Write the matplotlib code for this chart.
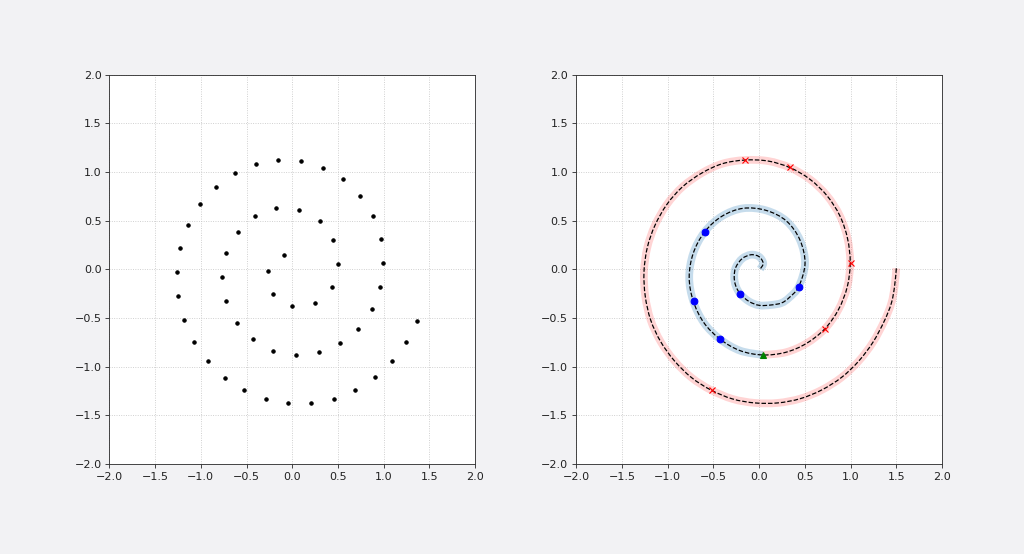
import matplotlib
matplotlib.use("Agg")
import matplotlib.pyplot as plt
import numpy as np
from matplotlib.path import Path
from matplotlib.patches import PathPatch

spiral_x = [1.367, 1.244, 1.087, 0.902, 0.684, 0.451, 0.204, -0.047, -0.291, -0.527,
            -0.738, -0.924, -1.076, -1.185, -1.244, -1.258, -1.222, -1.138, -1.007, -0.836,
            -0.625, -0.400, -0.153, 0.098, 0.338, 0.556, 0.742, 0.884, 0.967, 0.996,
            0.964, 0.869, 0.720, 0.520, 0.291, 0.040, -0.207, -0.425, -0.604, -0.720,
            -0.764, -0.720, -0.596, -0.407, -0.175, 0.076, 0.298, 0.447, 0.502, 0.429,
            0.244, 0.000, -0.211, -0.262, -0.087]
spiral_y = [-0.534, -0.750, -0.945, -1.110, -1.240, -1.329, -1.373, -1.373, -1.332, -1.240,
            -1.113, -0.942, -0.743, -0.521, -0.277, -0.027, 0.223, 0.452, 0.668, 0.849,
            0.990, 1.086, 1.123, 1.113, 1.045, 0.925, 0.757, 0.548, 0.315, 0.068,
            -0.178, -0.411, -0.610, -0.760, -0.853, -0.877, -0.836, -0.719, -0.548, -0.325,
            -0.082, 0.164, 0.384, 0.545, 0.627, 0.606, 0.497, 0.301, 0.058, -0.178,
            -0.346, -0.377, -0.250, -0.014, 0.144]

# Right panel: spiral path from outer end to inner end
curve_x = [1.500, 1.480, 1.445,
           1.367, 1.244, 1.087, 0.902, 0.684, 0.451, 0.204, -0.047, -0.291, -0.527,
           -0.738, -0.924, -1.076, -1.185, -1.244, -1.258, -1.222, -1.138, -1.007, -0.836,
           -0.625, -0.400, -0.153, 0.098, 0.338, 0.556, 0.742, 0.884, 0.967, 0.996,
           0.964, 0.869, 0.720, 0.520, 0.291, 0.040, -0.207, -0.425, -0.604, -0.720,
           -0.764, -0.720, -0.596, -0.407, -0.175, 0.076, 0.298, 0.447, 0.502, 0.433,
           0.330, 0.244, 0.125, 0.000, -0.110, -0.205, -0.255, -0.272, -0.255, -0.185,
           -0.088, 0.000, 0.045, 0.012]
curve_y = [0.010, -0.180, -0.350,
           -0.534, -0.750, -0.945, -1.110, -1.240, -1.329, -1.373, -1.373, -1.332, -1.240,
           -1.113, -0.942, -0.743, -0.521, -0.277, -0.027, 0.223, 0.452, 0.668, 0.849,
           0.990, 1.086, 1.123, 1.113, 1.045, 0.925, 0.757, 0.548, 0.315, 0.068,
           -0.178, -0.411, -0.610, -0.760, -0.853, -0.880, -0.836, -0.719, -0.548, -0.325,
           -0.082, 0.164, 0.384, 0.545, 0.627, 0.606, 0.497, 0.301, 0.058, -0.178,
           -0.290, -0.346, -0.367, -0.370, -0.330, -0.254, -0.170, -0.076, 0.020, 0.110,
           0.150, 0.130, 0.062, 0.003]
split_index = 38  # where outer (red) part meets inner (blue) part

red_x = [-0.149, 0.342, 1.000, 0.724, -0.520]
red_y = [1.127, 1.048, 0.068, -0.610, -1.240]
blue_x = [-0.589, -0.716, -0.422, -0.204, 0.436]
blue_y = [0.384, -0.325, -0.719, -0.252, -0.178]
tri_x = [0.044]
tri_y = [-0.880]

ticks = [-2.0, -1.5, -1.0, -0.5, 0.0, 0.5, 1.0, 1.5, 2.0]


def smooth_path(xs, ys):
    """Smooth Bezier path passing through the given points (Catmull-Rom style)."""
    p = np.column_stack([xs, ys]).astype(float)
    ext = np.vstack([p[0], p, p[-1]])
    verts = [p[0]]
    codes = [Path.MOVETO]
    for i in range(len(p) - 1):
        p0, p1, p2, p3 = ext[i], ext[i + 1], ext[i + 2], ext[i + 3]
        c1 = p1 + (p2 - p0) / 6.0
        c2 = p2 - (p3 - p1) / 6.0
        verts += [c1, c2, p2]
        codes += [Path.CURVE4] * 3
    return Path(np.array(verts), codes)


fig = plt.figure(figsize=(12.8, 6.925), dpi=80, facecolor="#f2f2f4")
ax1 = fig.add_axes([0.1067, 0.1626, 0.3574, 0.7025])
ax2 = fig.add_axes([0.5626, 0.1626, 0.3574, 0.7025])

ax1.plot(spiral_x, spiral_y, "k.", zorder=3)

outer = smooth_path(curve_x[:split_index + 1], curve_y[:split_index + 1])
inner = smooth_path(curve_x[split_index:], curve_y[split_index:])
full = smooth_path(curve_x, curve_y)
ax2.add_patch(PathPatch(outer, fill=False, edgecolor="r", lw=7, alpha=0.17,
                        capstyle="butt", zorder=2))
ax2.add_patch(PathPatch(inner, fill=False, edgecolor="C0", lw=7, alpha=0.25,
                        capstyle="butt", zorder=2))
ax2.add_patch(PathPatch(full, fill=False, edgecolor="k", lw=1.1, ls="--", zorder=3))
ax2.plot(red_x, red_y, "rx", zorder=4)
ax2.plot(blue_x, blue_y, "bo", zorder=4)
ax2.plot(tri_x, tri_y, "g^", zorder=4)

for ax in (ax1, ax2):
    ax.set_xlim(-2, 2)
    ax.set_ylim(-2, 2)
    ax.set_xticks(ticks)
    ax.set_yticks(ticks)
    ax.grid(True, linestyle=":", color="#c8c8c8", lw=0.8)
    ax.set_axisbelow(True)
    for s in ax.spines.values():
        s.set_color("#333333")
    ax.tick_params(colors="#333333", labelcolor="#222222")

fig.savefig("out.png", dpi=80, facecolor=fig.get_facecolor())
